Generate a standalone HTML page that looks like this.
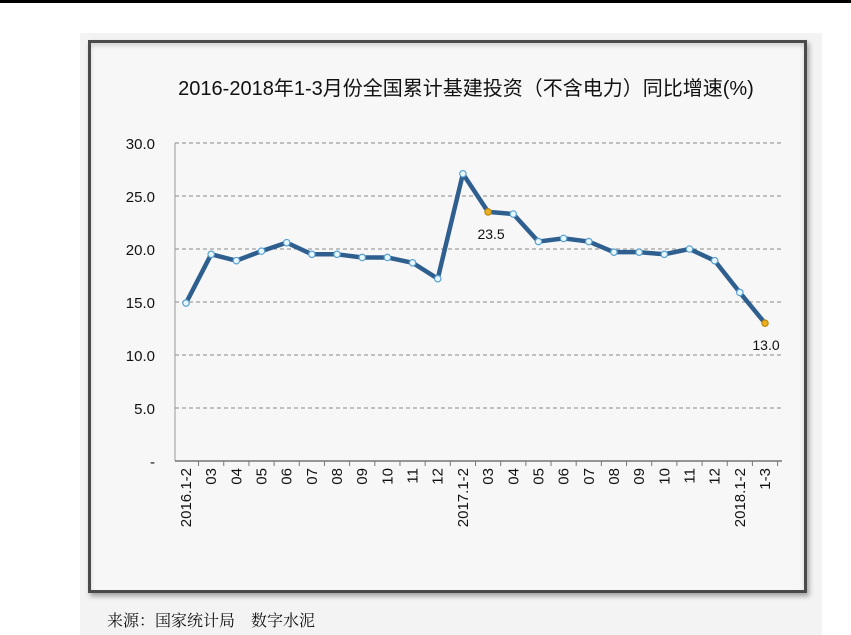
<!DOCTYPE html>
<html><head><meta charset="utf-8">
<style>
body{margin:0;width:851px;height:635px;background:#fff;position:relative;overflow:hidden;font-family:"Liberation Sans","Noto Sans CJK SC",sans-serif;}
</style></head>
<body>
<div style="position:absolute;left:0;top:0;width:851px;height:3px;background:#000"></div>
<div style="position:absolute;left:80px;top:33px;width:742px;height:602px;background:#f3f3f3"></div>
<div style="position:absolute;left:88px;top:40px;width:713px;height:547px;border:3px solid #4a4a4a;background:#f7f7f7;box-shadow:2px 3px 5px rgba(0,0,0,0.35), inset 0 3px 5px rgba(0,0,0,0.15)"></div>
<svg id="chart" width="851" height="635" style="position:absolute;left:0;top:0">
<text x="466" y="95" text-anchor="middle" font-size="20" fill="#111" font-family="Liberation Sans, Noto Sans CJK SC, sans-serif">2016-2018年1-3月份全国累计基建投资（不含电力）同比增速(%)</text>
<g id="grid"></g><g id="axes"></g><g id="series"></g><g id="labels"></g>
</svg>
<div style="position:absolute;left:107px;top:608px;font-size:16px;font-family:'Noto Serif CJK SC',serif;color:#111">来源：国家统计局　数字水泥</div>
<script>
const categories=["2016.1-2","03","04","05","06","07","08","09","10","11","12","2017.1-2","03","04","05","06","07","08","09","10","11","12","2018.1-2","1-3"];
const values=[14.9,19.5,18.9,19.8,20.6,19.5,19.5,19.2,19.2,18.7,17.2,27.1,23.5,23.3,20.7,21.0,20.7,19.7,19.7,19.5,20.0,18.9,15.9,13.0];
const yTicks=[0,5,10,15,20,25,30];
const yTickLabels=["-","5.0","10.0","15.0","20.0","25.0","30.0"];
const highlighted=[12,23];
const NS="http://www.w3.org/2000/svg";
const x0=175,x1=782,yBase=461,yTop=143;
function y(v){return yBase-(v/30)*(yBase-yTop);}
function x(i){return 186+i*(765-186)/(categories.length-1);}
function mk(t,a,p){const e=document.createElementNS(NS,t);for(const k in a)e.setAttribute(k,a[k]);p.appendChild(e);return e;}
const grid=document.getElementById('grid'),axes=document.getElementById('axes'),series=document.getElementById('series'),labels=document.getElementById('labels');
yTicks.forEach((t,i)=>{
  if(t>0){const g=mk('line',{x1:x0,x2:x1,y1:y(t),y2:y(t),stroke:'#8a8a8a','stroke-dasharray':'4,3','stroke-width':1},grid);
  }
  const tl=mk('text',{x:155,y:y(t)+6,'text-anchor':'end','font-size':15,fill:'#111'},axes);
  tl.textContent=yTickLabels[i];
  
});
let a=mk('line',{x1:x0,x2:x0,y1:yTop,y2:yBase,stroke:'#999','stroke-width':1},axes);

a=mk('line',{x1:x0,x2:x1,y1:yBase,y2:yBase,stroke:'#777','stroke-width':1.5},axes);

const step=(765-186)/(categories.length-1);
categories.forEach((c,i)=>{
  const tk=mk('line',{x1:x(i)+step/2,x2:x(i)+step/2,y1:yBase,y2:yBase+5,stroke:'#777'},axes);
  
  const t=mk('text',{x:0,y:0,'text-anchor':'end','font-size':15,fill:'#111',transform:`translate(${x(i)+5},468) rotate(-90)`},axes);
  t.textContent=c;
  
});
const pts=values.map((v,i)=>x(i)+','+y(v)).join(' ');
const ln=mk('polyline',{points:pts,fill:'none',stroke:'#2f5f8f','stroke-width':4.5,'stroke-linejoin':'round'},series);

values.forEach((v,i)=>{
  const h=highlighted.includes(i);
  const c=mk('circle',{cx:x(i),cy:y(v),r:3.2,fill:h?'#e8b020':'#e8f8ff',stroke:h?'#c08a10':'#5aa0d0','stroke-width':1.2},series);
  
  if(h){const t=mk('text',{x:x(i)+(i===23?1:3),y:y(v)+27,'text-anchor':'middle','font-size':14,fill:'#111'},labels);
    t.textContent=v.toFixed(1);
    }
});
</script>
</body></html>
